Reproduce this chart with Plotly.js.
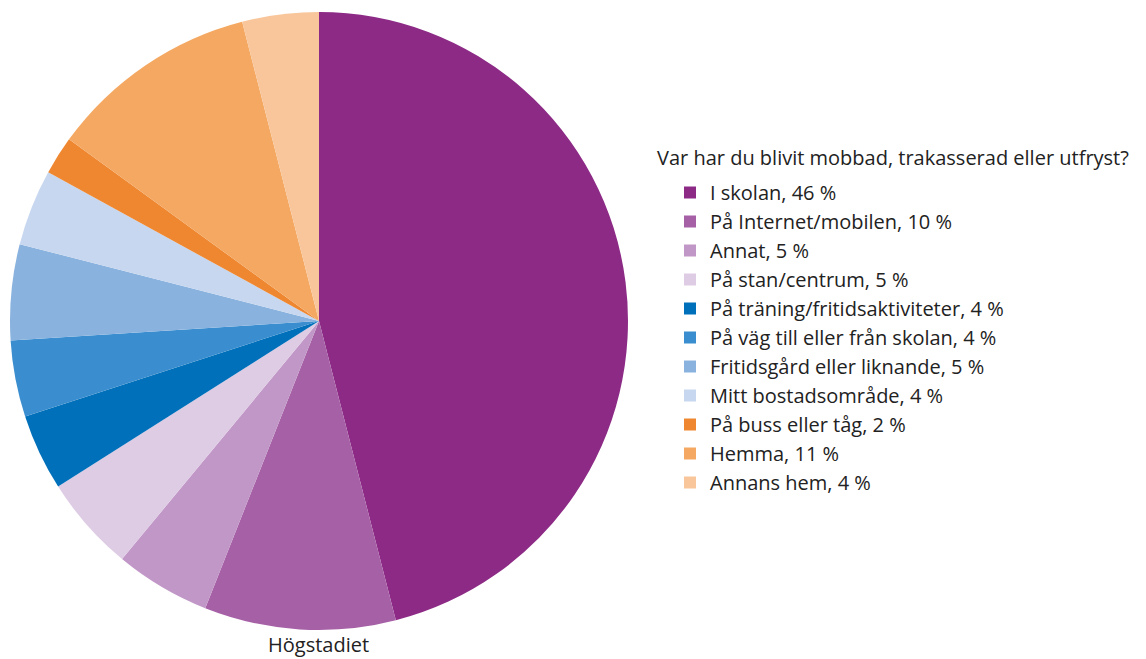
<!DOCTYPE html>
<html><head><meta charset="utf-8">
<script src="https://cdn.plot.ly/plotly-3.0.1.min.js"></script>
<style>html,body{margin:0;padding:0;background:#fff}#chart{width:1146px;height:659px}</style>
</head><body><div id="chart"></div>
<script>
const categories = ["I skolan","På Internet/mobilen","Annat","På stan/centrum","På träning/fritidsaktiviteter","På väg till eller från skolan","Fritidsgård eller liknande","Mitt bostadsområde","På buss eller tåg","Hemma","Annans hem"];
const values = [46,10,5,5,4,4,5,4,2,11,4];
const colors = ["#8C2A86","#A660A6","#C197C7","#DECCE5","#0070BA","#3A8ECF","#8AB2DE","#C7D7EF","#EE8730","#F4A862","#F8C69A"];
const legendTitle = "Var har du blivit mobbad, trakasserad eller utfryst?";
const groupLabel = "Högstadiet";

const W = 1146, H = 659;
const font = "Open Sans, sans-serif";
const fs = 20;
const trace = {
  type: "pie",
  labels: categories.map((c,i)=>c + ", " + values[i] + " %"),
  values: values,
  sort: false,
  direction: "clockwise",
  rotation: 0,
  textinfo: "none",
  marker: {colors: colors, line: {width: 0}},
  domain: {x: [10/W, 628/W], y: [(H-630)/H, (H-12)/H]}
};
const layout = {
  width: W, height: H,
  margin: {l:0, r:0, t:0, b:0},
  paper_bgcolor: "#fff",
  font: {family: font, color: "#222", size: fs},
  showlegend: true,
  legend: {x: 670/W, xanchor: "left", y: (H-173)/H, yanchor: "top",
           font: {family: font, size: fs, color: "#222"}, bgcolor: "rgba(0,0,0,0)"},
  annotations: [
    {text: legendTitle, x: 655/W, y: (H-158)/H, xref: "paper", yref: "paper", xanchor: "left", yanchor: "middle", showarrow: false, font: {family: font, size: fs, color: "#222"}},
    {text: groupLabel, x: 318/W, y: (H-644)/H, xref: "paper", yref: "paper", xanchor: "center", yanchor: "middle", showarrow: false, font: {family: font, size: fs, color: "#222"}}
  ]
};
Plotly.newPlot("chart", [trace], layout, {displayModeBar: false, staticPlot: true});
</script></body></html>
